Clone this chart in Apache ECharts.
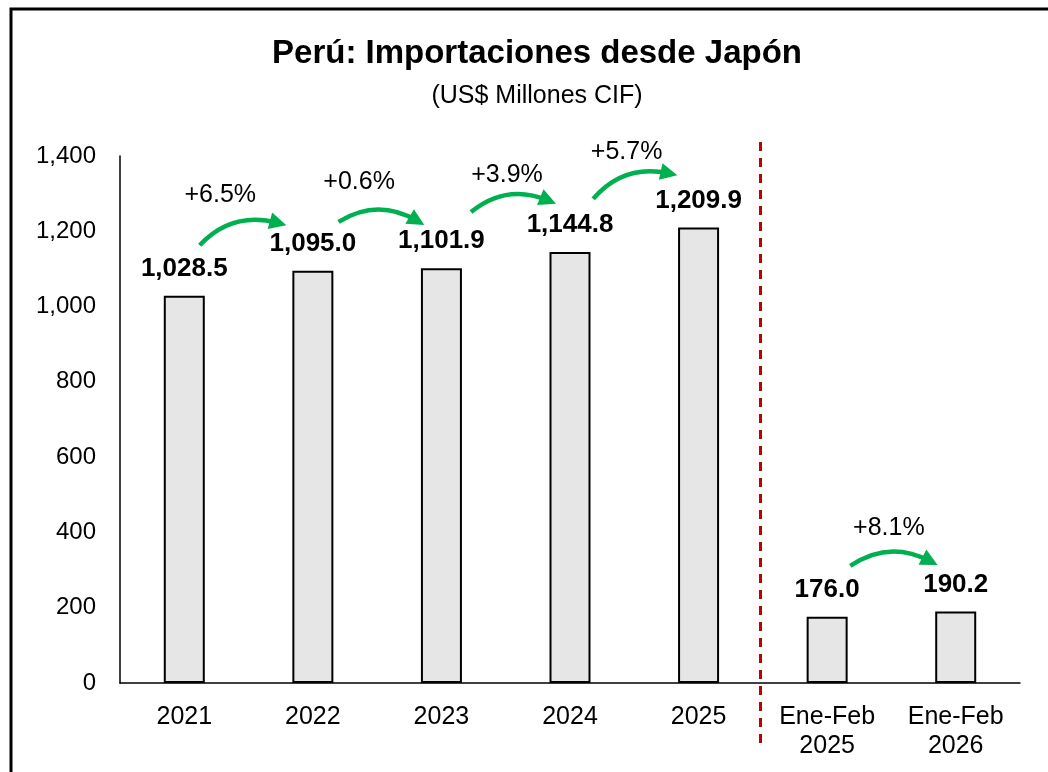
<!DOCTYPE html>
<html>
<head>
<meta charset="utf-8">
<title>Perú: Importaciones desde Japón</title>
<script src="https://cdn.jsdelivr.net/npm/echarts@6/dist/echarts.min.js"></script>
<style>
  html, body { margin: 0; padding: 0; background: #fff; }
  #main { width: 1048px; height: 772px; }
</style>
</head>
<body>
<div id="main"></div>
<script>
// datos
var categories = ['2021', '2022', '2023', '2024', '2025', 'Ene-Feb\n2025', 'Ene-Feb\n2026'];
var values = [1028.5, 1095.0, 1101.9, 1144.8, 1209.9, 176.0, 190.2];
var yTicks = [0, 200, 400, 600, 800, 1000, 1200, 1400];

// variaciones: pares de barras comparadas
var growthPairs = [[0, 1], [1, 2], [2, 3], [3, 4], [5, 6]];
// flechas (eje x auxiliar 0..7, eje y en US$ millones)
var arrowStartX = [0.62, 1.70, 2.73, 3.68, 5.68];
var arrowStartY = [1163, 1225, 1251, 1286, 311];
var arrowEndX = [1.23, 2.31, 3.33, 4.27, 6.30];
var arrowEndY = [1222, 1228, 1282, 1354, 324];
var growthLabelX = [0.78, 1.86, 3.01, 3.94, 5.98];
var growthLabelY = [1296, 1331, 1350, 1411, 412];

var growthText = growthPairs.map(function (p) {
  var g = (values[p[1]] / values[p[0]] - 1) * 100;
  return (g >= 0 ? '+' : '') + g.toFixed(1) + '%';
});

var arrowData = arrowStartX.map(function (x, i) {
  return { coords: [[x, arrowStartY[i]], [arrowEndX[i], arrowEndY[i]]] };
});
var labelData = growthLabelX.map(function (x, i) {
  return { value: [x, growthLabelY[i]], name: growthText[i] };
});

var font = '"Liberation Sans", Arial, sans-serif';
var myChart = echarts.init(document.getElementById('main'));

var option = {
  backgroundColor: '#fff',
  animation: false,
  textStyle: { fontFamily: font },
  title: [
    {
      text: 'Perú: Importaciones desde Japón',
      left: 532, top: 32, textAlign: 'center',
      textStyle: { fontFamily: font, fontSize: 33, fontWeight: 'bold', color: '#000' }
    },
    {
      text: '(US$ Millones CIF)',
      left: 532, top: 79, textAlign: 'center',
      textStyle: { fontFamily: font, fontSize: 25, fontWeight: 'normal', color: '#000' }
    }
  ],
  graphic: [{
    type: 'rect',
    shape: { x: 11, y: 9, width: 1100, height: 800 },
    style: { fill: 'none', stroke: '#000', lineWidth: 3 },
    silent: true
  }],
  grid: { left: 120, right: 28, top: 156, bottom: 89 },
  xAxis: [
    {
      type: 'category',
      data: categories,
      axisLine: { lineStyle: { color: '#000', width: 1.5 } },
      axisTick: { show: false },
      axisLabel: { color: '#000', fontSize: 25, margin: 20, lineHeight: 29, fontFamily: font, interval: 0 }
    },
    {
      type: 'value', min: 0, max: 7, show: false
    }
  ],
  yAxis: {
    type: 'value',
    min: yTicks[0],
    max: yTicks[yTicks.length - 1],
    interval: 200,
    axisLine: { show: true, lineStyle: { color: '#000', width: 1.5 } },
    axisTick: { show: false },
    splitLine: { show: false },
    axisLabel: {
      color: '#000', fontSize: 24, margin: 24, fontFamily: font,
      formatter: function (v) { return v.toLocaleString('en-US'); }
    }
  },
  series: [
    {
      name: 'Importaciones',
      type: 'bar',
      data: values,
      barWidth: 41,
      itemStyle: { color: '#e6e6e6', borderColor: '#000', borderWidth: 2 },
      label: {
        show: true, position: 'top', distance: 14,
        color: '#000', fontSize: 26, fontWeight: 'bold', fontFamily: font,
        formatter: function (p) {
          return p.value.toLocaleString('en-US', { minimumFractionDigits: 1, maximumFractionDigits: 1 });
        }
      },
      z: 2
    },
    {
      name: 'separador',
      type: 'lines',
      coordinateSystem: 'cartesian2d',
      xAxisIndex: 1,
      clip: false,
      silent: true,
      symbol: ['none', 'none'],
      lineStyle: { color: '#c00000', width: 3, type: [9, 7], opacity: 1 },
      data: [{ coords: [[4.98, 1437], [4.98, -165]] }]
    },
    {
      name: 'flechas',
      type: 'lines',
      coordinateSystem: 'cartesian2d',
      xAxisIndex: 1,
      clip: false,
      silent: true,
      symbol: ['none', 'triangle'],
      symbolSize: [18, 17],
      lineStyle: { color: '#00b050', width: 4.5, curveness: 0.3, opacity: 1 },
      itemStyle: { color: '#00b050' },
      data: arrowData
    },
    {
      name: 'variacion',
      type: 'scatter',
      xAxisIndex: 1,
      clip: false,
      silent: true,
      symbolSize: 0,
      itemStyle: { opacity: 1 },
      label: {
        show: true, position: 'inside', color: '#000', opacity: 1, fontSize: 25, fontFamily: font,
        formatter: function (p) { return p.name; }
      },
      data: labelData
    }
  ]
};

myChart.setOption(option);
</script>
</body>
</html>
